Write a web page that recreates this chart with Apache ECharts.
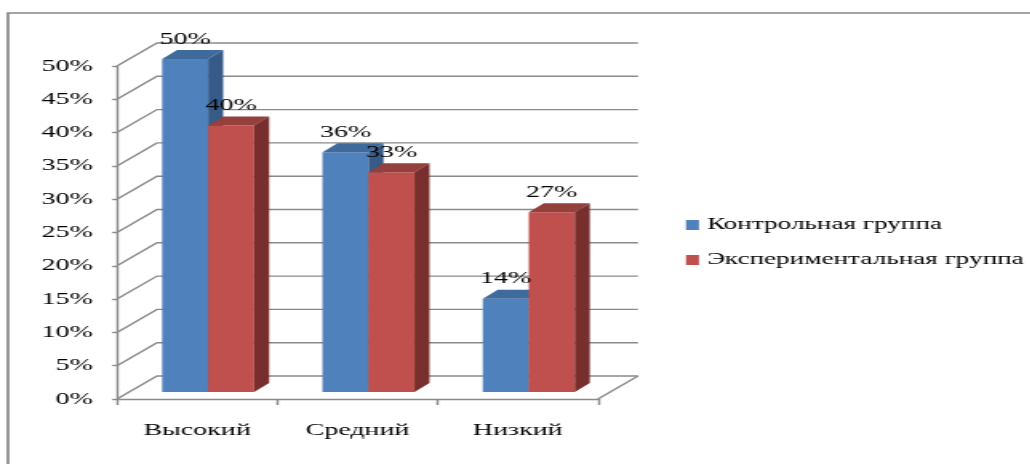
<!DOCTYPE html>
<html>
<head>
<meta charset="utf-8">
<script src="https://cdn.jsdelivr.net/npm/echarts@6/dist/echarts.min.js"></script>
<style>
  html, body { margin: 0; padding: 0; background: #fff; overflow: hidden; }
  /* The chart is laid out on a narrower canvas and stretched sideways,
     which gives the wide lettering and the thicker vertical strokes. */
  #chart { width: 643.75px; height: 464px; transform: scaleX(1.6); transform-origin: 0 0; }
</style>
</head>
<body>
<div id="chart"></div>
<script>
// ---- data ----
const categories = ['Высокий', 'Средний', 'Низкий'];
const controlGroup = [50, 36, 14];
const experimentalGroup = [40, 33, 27];
const seriesNames = ['Контрольная группа', 'Экспериментальная группа'];
const yTicks = [0, 5, 10, 15, 20, 25, 30, 35, 40, 45, 50];

// ---- look ----
const STRETCH = 1.6;
const FONT = '"Liberation Serif", "Times New Roman", serif';
const GRID_COLOR = '#8a8a8a';
const WALL = { dx: 40 / STRETCH, dy: -23 };      // back wall offset
const PLANE = { dx: 11 / STRETCH, dy: -7 };      // plane the bars stand on
const DEPTH = { dx: 15 / STRETCH, dy: -9 };      // depth of each bar
const BAR_RATIO = 0.287;                          // bar width / category width

const palette = [
  { front: '#4F81BD', top: '#3F6A9C', side: '#375B88' },
  { front: '#C0504D', top: '#94403D', side: '#772E2C' }
];

function wallItem(params, api) {
  const cs = params.coordSys;
  const y = api.coord([0, api.value(1)])[1];
  const left = cs.x, right = cs.x + cs.width;
  const children = [{
    type: 'polyline',
    shape: { points: [[left, y], [left + WALL.dx, y + WALL.dy], [right + WALL.dx, y + WALL.dy]] },
    style: { stroke: GRID_COLOR, lineWidth: 1.4, fill: null }
  }];
  if (api.value(1) === 0) {
    children.push({
      type: 'line',
      shape: { x1: right, y1: y, x2: right + WALL.dx, y2: y + WALL.dy },
      style: { stroke: GRID_COLOR, lineWidth: 1.4 }
    });
  }
  return { type: 'group', children: children };
}

function barRenderer(groupIndex) {
  const c = palette[groupIndex];
  return function (params, api) {
    const idx = api.value(0), val = api.value(1);
    const base = api.coord([idx, 0]);
    const top = api.coord([idx, val]);
    const band = api.size([1, 0])[0];
    const w = band * BAR_RATIO;
    const cx = base[0] + PLANE.dx;
    const x0 = groupIndex === 0 ? cx - w : cx;
    const x1 = x0 + w;
    const by = base[1] + PLANE.dy;
    const ty = top[1] + PLANE.dy;
    return {
      type: 'group',
      children: [
        { type: 'rect', shape: { x: x0, y: ty, width: w, height: by - ty }, style: { fill: c.front } },
        { type: 'polygon', shape: { points: [[x0, ty], [x0 + DEPTH.dx, ty + DEPTH.dy], [x1 + DEPTH.dx, ty + DEPTH.dy], [x1, ty]] }, style: { fill: c.top } },
        { type: 'polygon', shape: { points: [[x1, ty], [x1 + DEPTH.dx, ty + DEPTH.dy], [x1 + DEPTH.dx, by + DEPTH.dy], [x1, by]] }, style: { fill: c.side } },
        { type: 'text', z2: 100, style: {
            x: x0 + w / 2, y: ty - 20, text: val + '%',
            align: 'center', verticalAlign: 'middle',
            fontFamily: FONT, fontSize: 17.5, fill: '#000'
        } }
      ]
    };
  };
}

const chart = echarts.init(document.getElementById('chart'), null, { renderer: 'canvas' });
chart.setOption({
  animation: false,
  backgroundColor: '#fff',
  textStyle: { fontFamily: FONT },
  graphic: [{
    type: 'rect', silent: true,
    shape: { x: 5, y: 13, width: 900, height: 600 },
    style: { fill: null, stroke: '#868686', lineWidth: 1.7 }
  }],
  grid: { left: 117 / STRETCH, top: 66, width: (598 - 117) / STRETCH, height: 333 },
  legend: {
    data: seriesNames,
    orient: 'vertical',
    left: 686 / STRETCH, top: 215,
    padding: 0,
    itemWidth: 13 / STRETCH, itemHeight: 10, itemGap: 15,
    icon: 'rect',
    selectedMode: false,
    textStyle: { fontFamily: FONT, fontSize: 17, lineHeight: 20, color: '#000' }
  },
  xAxis: {
    type: 'category',
    data: categories,
    axisLine: { lineStyle: { color: GRID_COLOR, width: 1.4 } },
    axisTick: { show: true, length: 6, lineStyle: { color: GRID_COLOR, width: 1.4 } },
    axisLabel: { fontFamily: FONT, fontSize: 17.5, color: '#000', margin: 22 },
    splitLine: { show: false }
  },
  yAxis: {
    type: 'value',
    min: 0, max: 50, interval: 5,
    axisLine: { show: true, lineStyle: { color: GRID_COLOR, width: 1.4 } },
    axisTick: { show: true, length: 3, lineStyle: { color: GRID_COLOR, width: 1.4 } },
    axisLabel: { fontFamily: FONT, fontSize: 17.5, color: '#000', margin: 15, formatter: '{value}%' },
    splitLine: { show: false }
  },
  series: [
    {
      name: 'wall', type: 'custom', silent: true, z: 1,
      encode: { x: 0, y: 1 },
      data: yTicks.map(v => [0, v]),
      renderItem: wallItem
    },
    {
      name: seriesNames[0], type: 'custom', z: 3,
      itemStyle: { color: palette[0].front },
      encode: { x: 0, y: 1 },
      data: controlGroup.map((v, i) => [i, v]),
      renderItem: barRenderer(0)
    },
    {
      name: seriesNames[1], type: 'custom', z: 3,
      itemStyle: { color: palette[1].front },
      encode: { x: 0, y: 1 },
      data: experimentalGroup.map((v, i) => [i, v]),
      renderItem: barRenderer(1)
    }
  ]
});
</script>
</body>
</html>
